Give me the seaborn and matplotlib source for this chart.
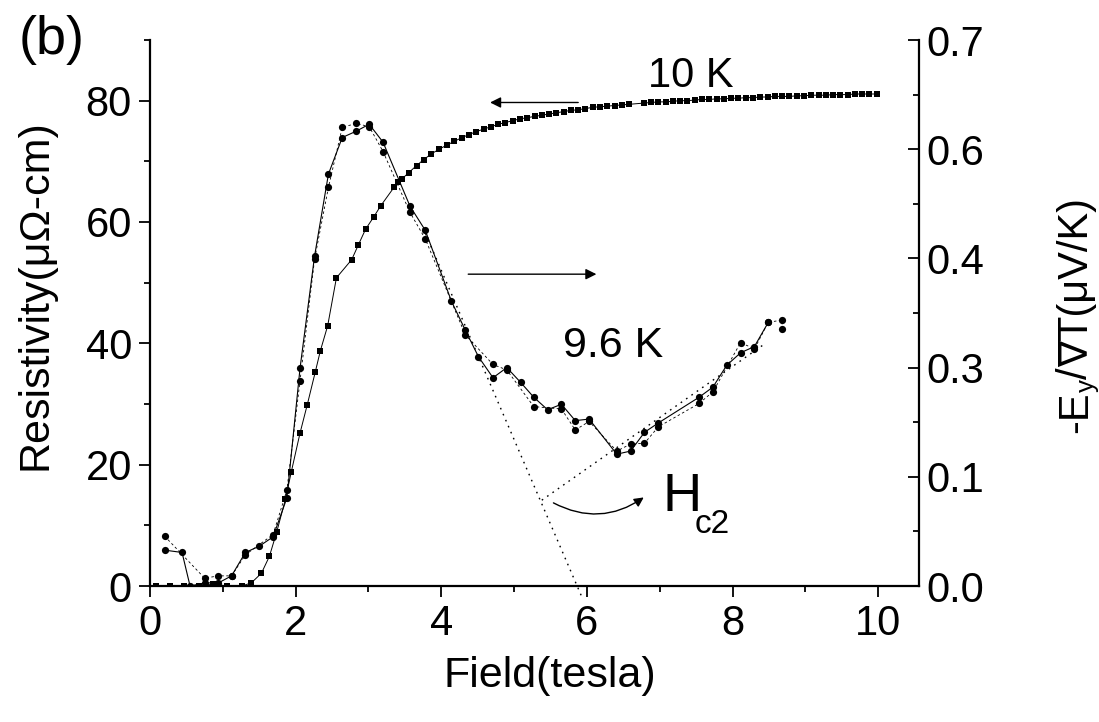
import matplotlib
matplotlib.use("Agg")
import matplotlib.pyplot as plt
import seaborn as sns
from matplotlib.ticker import FixedLocator, FixedFormatter
from matplotlib.patches import FancyArrowPatch

# ---------------- data ----------------
# 10 K resistivity (left axis, squares)
field_10K = [0.08, 0.27, 0.47, 0.67, 0.87, 1.06, 1.26, 1.39, 1.53, 1.64, 1.74, 1.86,
             1.94, 2.06, 2.16, 2.27, 2.34, 2.44, 2.56, 2.77, 2.86, 2.96, 3.07, 3.17,
             3.35, 3.40, 3.46, 3.55, 3.66, 3.76, 3.86, 3.97, 4.08, 4.18, 4.28, 4.38,
             4.48, 4.58, 4.68, 4.78, 4.88, 4.98, 5.08, 5.18, 5.28, 5.38, 5.48, 5.58,
             5.68, 5.78, 5.88, 5.98, 6.08, 6.18, 6.28, 6.38, 6.48, 6.58, 6.78, 6.88,
             6.98, 7.08, 7.18, 7.28, 7.38, 7.48, 7.58, 7.68, 7.78, 7.88, 7.98, 8.08,
             8.18, 8.28, 8.38, 8.48, 8.58, 8.68, 8.78, 8.88, 8.98, 9.08, 9.18, 9.28,
             9.38, 9.48, 9.58, 9.68, 9.78, 9.88, 9.98]
rho_10K = [0.0, 0.0, 0.0, 0.0, 0.3, 0.0, 0.0, 0.5, 2.1, 4.9, 8.9, 14.3,
           18.8, 25.2, 29.9, 35.3, 38.8, 42.9, 50.8, 53.8, 56.2, 58.8, 60.8, 62.7,
           65.7, 66.6, 67.1, 68.1, 69.3, 70.3, 71.2, 72.0, 72.7, 73.3, 73.9, 74.4,
           74.9, 75.3, 75.7, 76.1, 76.4, 76.7, 77.0, 77.2, 77.4, 77.6, 77.8, 78.0,
           78.2, 78.4, 78.5, 78.7, 78.9, 79.0, 79.1, 79.2, 79.3, 79.4, 79.6, 79.7,
           79.8, 79.8, 79.9, 80.0, 80.0, 80.1, 80.2, 80.2, 80.3, 80.3, 80.4, 80.4,
           80.5, 80.5, 80.6, 80.6, 80.7, 80.7, 80.7, 80.8, 80.8, 80.9, 80.9, 80.9,
           81.0, 81.0, 81.0, 81.1, 81.1, 81.1, 81.1]

# 9.6 K Nernst signal (right axis, circles) - sweep A (solid line)
field_A = [0.20, 0.44, 0.55, 0.75, 0.94, 1.12, 1.31, 1.50, 1.69, 1.88, 2.06, 2.26,
           2.45, 2.64, 2.83, 3.01, 3.20, 3.57, 3.78, 4.14, 4.33, 4.51, 4.71, 4.90,
           5.09, 5.27, 5.46, 5.65, 5.84, 6.03, 6.41, 6.60, 6.79, 6.98, 7.54, 7.73,
           7.92, 8.11, 8.30, 8.49]
nernst_A = [0.046, 0.043, 0.0, 0.004, 0.004, 0.013, 0.043, 0.051, 0.063, 0.113, 0.279, 0.423,
            0.528, 0.575, 0.583, 0.592, 0.569, 0.487, 0.456, 0.365, 0.328, 0.294, 0.267, 0.280,
            0.261, 0.242, 0.226, 0.233, 0.212, 0.214, 0.169, 0.173, 0.197, 0.209, 0.242, 0.255,
            0.283, 0.299, 0.307, 0.338]
# sweep B (dashed line)
field_B = [0.20, 0.75, 0.94, 1.12, 1.31, 1.69, 1.88, 2.06, 2.26, 2.45, 2.64, 2.83,
           3.01, 3.20, 3.57, 3.78, 4.33, 4.71, 4.90, 5.27, 5.65, 5.84, 6.03, 6.41,
           6.60, 6.79, 6.98, 7.54, 7.73, 8.11, 8.30, 8.49, 8.68, 8.68]
nernst_B = [0.064, 0.010, 0.013, 0.013, 0.040, 0.066, 0.123, 0.263, 0.419, 0.511, 0.588, 0.593,
            0.589, 0.557, 0.479, 0.445, 0.322, 0.284, 0.277, 0.230, 0.227, 0.200, 0.211, 0.173,
            0.182, 0.183, 0.204, 0.234, 0.249, 0.312, 0.304, 0.338, 0.341, 0.329]

# linear extrapolations (right axis)
fit1_field = [3.75, 5.93]
fit1_nernst = [0.459, -0.014]
fit2_field = [5.38, 8.45]
fit2_nernst = [0.110, 0.311]

left_ticks = [0, 20, 40, 60, 80]
left_minor = [10, 30, 50, 70, 90]
right_ticks = [0.0, 0.14, 0.28, 0.42, 0.56, 0.70]
right_labels = ["0.0", "0.1", "0.3", "0.4", "0.6", "0.7"]
right_minor = [0.07, 0.21, 0.35, 0.49, 0.63]
x_ticks = [0, 2, 4, 6, 8, 10]
x_minor = [1, 3, 5, 7, 9]

# ---------------- style ----------------
sns.set_theme(style="ticks")
FAM = ["Liberation Sans", "DejaVu Sans"]
plt.rcParams["font.family"] = FAM
plt.rcParams["axes.edgecolor"] = "black"
plt.rcParams["xtick.color"] = "black"
plt.rcParams["ytick.color"] = "black"
plt.rcParams["text.color"] = "black"

W, H = 1099, 722
fig = plt.figure(figsize=(W / 100, H / 100), dpi=100)
ax = fig.add_axes([150 / W, 136 / H, 769 / W, 546 / H])
ax2 = ax.twinx()

FS = 30

sns.lineplot(x=field_10K, y=rho_10K, ax=ax, color="black", lw=0.7, marker="s",
             markersize=4.8, markeredgewidth=0, estimator=None, sort=False)
sns.lineplot(x=field_A, y=nernst_A, ax=ax2, color="black", lw=0.8, marker="o",
             markersize=5.2, markeredgewidth=0, estimator=None, sort=False)
sns.lineplot(x=field_B, y=nernst_B, ax=ax2, color="black", lw=0.6, marker="o",
             markersize=5.2, markeredgewidth=0, estimator=None, sort=False,
             linestyle=(0, (3, 3)))

ax2.plot(fit1_field, fit1_nernst, color="black", lw=1.0, linestyle=(0, (1.2, 3.5)),
         clip_on=False)
ax2.plot(fit2_field, fit2_nernst, color="black", lw=1.0, linestyle=(0, (1.2, 3.5)))

ax.set_xlim(0, 10.56)
ax.set_ylim(0, 90)
ax2.set_ylim(0, 0.70)

ax.xaxis.set_major_locator(FixedLocator(x_ticks))
ax.xaxis.set_minor_locator(FixedLocator(x_minor))
ax.yaxis.set_major_locator(FixedLocator(left_ticks))
ax.yaxis.set_minor_locator(FixedLocator(left_minor))
ax2.yaxis.set_major_locator(FixedLocator(right_ticks))
ax2.yaxis.set_major_formatter(FixedFormatter(right_labels))
ax2.yaxis.set_minor_locator(FixedLocator(right_minor))

for s in ["top", "right"]:
    ax.spines[s].set_visible(False)
for s in ["top", "left", "bottom"]:
    ax2.spines[s].set_visible(False)
for sp in [ax.spines["left"], ax.spines["bottom"], ax2.spines["right"]]:
    sp.set_linewidth(1.6)
    sp.set_color("black")

ax.tick_params(axis="both", which="major", direction="out", length=8, width=1.3,
               labelsize=FS, pad=5)
ax.tick_params(axis="both", which="minor", direction="out", length=4.5, width=1.3)
ax.tick_params(axis="y", right=False)
ax.tick_params(axis="x", top=False)
ax2.tick_params(axis="y", which="major", direction="in", length=8, width=1.3,
                labelsize=FS, pad=5, left=False, right=True)
ax2.tick_params(axis="y", which="minor", direction="in", length=4.5, width=1.3,
                left=False, right=True)

ax.set_xlabel("")
ax.set_ylabel("")
ax2.set_ylabel("")

# axis titles
fig.text(550 / W, 1 - 676 / H, "Field(tesla)", fontsize=31, ha="center", va="center")
fig.text(36 / W, 1 - 295 / H, "Resistivity(\u03bc\u03a9-cm)", fontsize=31,
         rotation=90, ha="center", va="center")
fig.text(52 / W, 1 - 40 / H, "(b)", fontsize=39, ha="center", va="center")

# right label built from pieces (subscript y), rotated 90 degrees
renderer = fig.canvas.get_renderer()
base_x = 1087      # baseline x (pixels)
sub_dx = 7         # subscript shift (pixels, towards the right = down in text frame)
pieces = [("-E", FS, 0, FAM), ("y", FS * 0.62, sub_dx, FAM), ("/", FS, 0, FAM),
          ("\u2207", FS * 0.95, 0, ["DejaVu Sans"]), ("T(\u03bcV/K)", FS, 0, FAM)]
texts = []
for s, fs, dx, fam in pieces:
    t = fig.text(0, 0, s, fontsize=fs, rotation=90, rotation_mode="anchor",
                 ha="left", va="baseline", family=fam)
    texts.append((t, dx))
lengths = [t.get_window_extent(renderer).height for t, _ in texts]
total = sum(lengths)
y_center = H - 315
y_cur = y_center - total / 2
for (t, dx), L in zip(texts, lengths):
    t.set_position(((base_x + dx) / W, y_cur / H))
    y_cur += L

# annotations
ax.text(7.42, 84.1, "10 K", fontsize=FS, ha="center", va="center")
ax.text(6.36, 39.5, "9.6 K", fontsize=31, ha="center", va="center")
ax.text(7.30, 14.6, "H", fontsize=39, ha="center", va="center")
ax.text(7.72, 10.2, "c2", fontsize=24, ha="center", va="center")

arrow_kw = dict(arrowstyle="-|>", color="black", lw=1.0, mutation_scale=16,
                shrinkA=0, shrinkB=0)
ax.annotate("", xy=(4.67, 79.7), xytext=(5.88, 79.7), arrowprops=arrow_kw)
ax.annotate("", xy=(6.13, 51.4), xytext=(4.37, 51.4), arrowprops=arrow_kw)
curve = FancyArrowPatch((5.54, 13.7), (6.78, 14.6), connectionstyle="arc3,rad=0.3",
                        arrowstyle="-|>", mutation_scale=14, color="black", lw=1.0,
                        shrinkA=0, shrinkB=0, transform=ax.transData)
ax.add_patch(curve)

fig.savefig("out.png", dpi=100)
